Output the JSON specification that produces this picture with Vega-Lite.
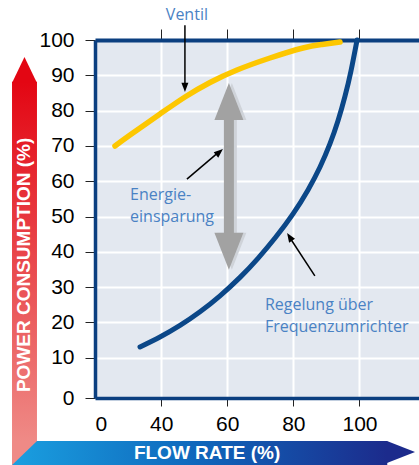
{
  "$schema": "https://vega.github.io/schema/vega-lite/v6.json",
  "width": 324,
  "height": 358,
  "autosize": {"type": "none"},
  "padding": {"left": 95, "top": 40, "right": 0, "bottom": 67},
  "background": "white",
  "config": {
    "view": {"fill": "#e3e8f0", "stroke": null},
    "font": "Liberation Sans",
    "axis": {"labelFont": "Liberation Sans"}
  },
  "data": {"values": [{}]},
  "datasets": {
    "ventil": [
      {"flow": 26.05, "power": 69.98},
      {"flow": 30.59, "power": 73.09},
      {"flow": 39.66, "power": 79.04},
      {"flow": 47.22, "power": 83.86},
      {"flow": 54.79, "power": 87.96},
      {"flow": 62.95, "power": 91.50},
      {"flow": 72.93, "power": 94.90},
      {"flow": 82.91, "power": 97.73},
      {"flow": 88.66, "power": 98.73},
      {"flow": 94.11, "power": 99.43}
    ],
    "frequenz": [
      {"flow": 33.61, "power": 13.05},
      {"flow": 39.66, "power": 15.88},
      {"flow": 45.71, "power": 19.16},
      {"flow": 51.76, "power": 23.02},
      {"flow": 57.81, "power": 27.55},
      {"flow": 63.86, "power": 32.76},
      {"flow": 69.30, "power": 38.17},
      {"flow": 74.45, "power": 43.90},
      {"flow": 79.89, "power": 50.77},
      {"flow": 84.43, "power": 57.54},
      {"flow": 88.06, "power": 64.03},
      {"flow": 91.08, "power": 70.63},
      {"flow": 93.50, "power": 77.12},
      {"flow": 95.62, "power": 84.08},
      {"flow": 97.44, "power": 91.32},
      {"flow": 99.26, "power": 100.0}
    ]
  },
  "layer": [
    {
      "mark": {"type": "rect", "fill": {"gradient": "linear", "x1": 0, "y1": 0, "x2": 1, "y2": 0, "stops": [{"offset": 0, "color": "#1a9fe0"}, {"offset": 0.5, "color": "#0f66bb"}, {"offset": 1, "color": "#1c2b8c"}]}},
      "encoding": {
        "x": {"datum": -5.1, "type": "quantitative", "axis": null},
        "x2": {"datum": 108.4},
        "y": {"datum": -13.6, "type": "quantitative", "axis": null},
        "y2": {"datum": -20.5}
      }
    },
    {
      "mark": {"type": "point", "shape": "M0,0L-2.55,-1L-2.55,1Z", "size": 484, "filled": true, "opacity": 1, "fill": "#1c2b8c", "strokeWidth": 0},
      "encoding": {
        "x": {"datum": 116.8, "type": "quantitative", "axis": null},
        "y": {"datum": -16.7, "type": "quantitative", "axis": null}
      }
    },
    {
      "mark": {"type": "rect", "fill": {"gradient": "linear", "x1": 0, "y1": 0, "x2": 0, "y2": 1, "stops": [{"offset": 0, "color": "#e30613"}, {"offset": 1, "color": "#ef8a86"}]}},
      "encoding": {
        "x": {"datum": -5.1, "type": "quantitative", "axis": null},
        "x2": {"datum": 2.45},
        "y": {"datum": 88.2, "type": "quantitative", "axis": null},
        "y2": {"datum": -13.6}
      }
    },
    {
      "mark": {"type": "point", "shape": "M0,0L1,2.08L-1,2.08Z", "size": 625, "filled": true, "opacity": 1, "fill": "#e30613", "strokeWidth": 0},
      "encoding": {
        "x": {"datum": -1.33, "type": "quantitative", "axis": null},
        "y": {"datum": 95.2, "type": "quantitative", "axis": null}
      }
    },
    {
      "mark": {"type": "point", "shape": "M0,0L2,0L0,1.92Z", "size": 625, "filled": true, "opacity": 1, "fill": "#ef8a86", "strokeWidth": 0},
      "encoding": {
        "x": {"datum": -5.1, "type": "quantitative", "axis": null},
        "y": {"datum": -13.6, "type": "quantitative", "axis": null}
      }
    },
    {
      "mark": {"type": "text", "text": "POWER CONSUMPTION (%)", "angle": 270, "font": "Liberation Sans", "fontWeight": "bold", "fontSize": 19, "fill": "white", "align": "center", "baseline": "middle"},
      "encoding": {
        "x": {"datum": -1.33, "type": "quantitative", "axis": null},
        "y": {"datum": 36.3, "type": "quantitative", "axis": null}
      }
    },
    {
      "mark": {"type": "text", "text": "FLOW RATE (%)", "font": "Liberation Sans", "fontWeight": "bold", "fontSize": 19, "fill": "white", "align": "center", "baseline": "middle"},
      "encoding": {
        "x": {"datum": 53.9, "type": "quantitative", "axis": null},
        "y": {"datum": -16.9, "type": "quantitative", "axis": null}
      }
    },
    {
      "mark": {"type": "rule", "color": "#cfd3d9", "strokeWidth": 10},
      "encoding": {
        "x": {"datum": 61.4, "type": "quantitative", "axis": null},
        "y": {"datum": 78.0, "type": "quantitative", "axis": null},
        "y2": {"datum": 44.7}
      }
    },
    {
      "mark": {"type": "point", "shape": "M0,0L1,2.55L-1,2.55Z", "size": 841, "filled": true, "opacity": 1, "fill": "#cfd3d9", "strokeWidth": 0},
      "encoding": {
        "x": {"datum": 61.4, "type": "quantitative", "axis": null},
        "y": {"datum": 87.8, "type": "quantitative", "axis": null}
      }
    },
    {
      "mark": {"type": "point", "shape": "M0,0L1,-2.55L-1,-2.55Z", "size": 841, "filled": true, "opacity": 1, "fill": "#cfd3d9", "strokeWidth": 0},
      "encoding": {
        "x": {"datum": 61.4, "type": "quantitative", "axis": null},
        "y": {"datum": 34.9, "type": "quantitative", "axis": null}
      }
    },
    {
      "mark": {"type": "rule", "color": "#a2a2a2", "strokeWidth": 10},
      "encoding": {
        "x": {"datum": 60.5, "type": "quantitative", "axis": null},
        "y": {"datum": 78.0, "type": "quantitative", "axis": null},
        "y2": {"datum": 44.7}
      }
    },
    {
      "mark": {"type": "point", "shape": "M0,0L1,2.55L-1,2.55Z", "size": 841, "filled": true, "opacity": 1, "fill": "#a2a2a2", "strokeWidth": 0},
      "encoding": {
        "x": {"datum": 60.5, "type": "quantitative", "axis": null},
        "y": {"datum": 87.8, "type": "quantitative", "axis": null}
      }
    },
    {
      "mark": {"type": "point", "shape": "M0,0L1,-2.55L-1,-2.55Z", "size": 841, "filled": true, "opacity": 1, "fill": "#a2a2a2", "strokeWidth": 0},
      "encoding": {
        "x": {"datum": 60.5, "type": "quantitative", "axis": null},
        "y": {"datum": 34.9, "type": "quantitative", "axis": null}
      }
    },
    {
      "data": {"name": "ventil"},
      "mark": {"type": "line", "color": "#fdc700", "strokeWidth": 5.5, "strokeCap": "round", "interpolate": "natural"},
      "encoding": {
        "x": {
          "field": "flow", "type": "quantitative",
          "scale": {"domain": [20, 118], "nice": false, "zero": false},
          "axis": {
            "orient": "bottom",
            "values": [20, 40, 60, 80, 100],
            "labelExpr": "datum.value == 20 ? '0' : datum.label",
            "title": null,
            "grid": true,
            "gridColor": {"condition": {"test": "datum.value == 20", "value": "transparent"}, "value": "white"},
            "gridWidth": 2,
            "domainColor": "#0b3f80",
            "domainWidth": 3.5,
            "tickColor": {"condition": {"test": "datum.value == 20", "value": "transparent"}, "value": "#222222"},
            "tickSize": 8,
            "labelFontSize": 21,
            "labelColor": "black",
            "labelPadding": 7
          }
        },
        "y": {
          "field": "power", "type": "quantitative",
          "scale": {"domain": [-1.4, 100], "nice": false, "zero": false},
          "axis": {
            "orient": "left",
            "values": [-1.4, 10, 20, 30, 40, 50, 60, 70, 80, 90, 100],
            "labelExpr": "datum.value < 0 ? '0' : datum.label",
            "title": null,
            "grid": true,
            "gridColor": {"condition": {"test": "datum.value < 0 || datum.value == 100", "value": "transparent"}, "value": "white"},
            "gridWidth": 2,
            "domainColor": "#0b3f80",
            "domainWidth": 3.5,
            "tickColor": "#222222",
            "tickSize": 10,
            "labelFontSize": 21,
            "labelColor": "black",
            "labelPadding": 11
          }
        }
      }
    },
    {
      "data": {"name": "frequenz"},
      "mark": {"type": "line", "color": "#0b4788", "strokeWidth": 5, "strokeCap": "round", "interpolate": "natural"},
      "encoding": {
        "x": {
          "field": "flow", "type": "quantitative",
          "scale": {"domain": [20, 118], "nice": false, "zero": false},
          "axis": {
            "orient": "top",
            "values": [40, 60, 80, 100],
            "labels": false,
            "title": null,
            "grid": false,
            "domainColor": "#0b3f80",
            "domainWidth": 4,
            "tickColor": "#222222",
            "tickSize": 11
          }
        },
        "y": {
          "field": "power", "type": "quantitative",
          "scale": {"domain": [-1.4, 100], "nice": false, "zero": false},
          "axis": null
        }
      }
    },
    {
      "mark": {"type": "rule", "color": "black", "strokeWidth": 1.5},
      "encoding": {
        "x": {"datum": 47.2, "type": "quantitative", "axis": null},
        "y": {"datum": 104.2, "type": "quantitative", "axis": null},
        "y2": {"datum": 87.0}
      }
    },
    {
      "mark": {"type": "point", "shape": "M0,0L1,-2.6L-1,-2.6Z", "size": 49, "filled": true, "opacity": 1, "fill": "black", "strokeWidth": 0},
      "encoding": {
        "x": {"datum": 47.2, "type": "quantitative", "axis": null},
        "y": {"datum": 85.3, "type": "quantitative", "axis": null}
      }
    },
    {
      "mark": {"type": "rule", "color": "black", "strokeWidth": 1.5},
      "encoding": {
        "x": {"datum": 47.8, "type": "quantitative", "axis": null},
        "y": {"datum": 60.6, "type": "quantitative", "axis": null},
        "x2": {"datum": 57.5},
        "y2": {"datum": 68.3}
      }
    },
    {
      "mark": {"type": "point", "shape": "M0,0L1,2.6L-1,2.6Z", "size": 49, "angle": 50, "filled": true, "opacity": 1, "fill": "black", "strokeWidth": 0},
      "encoding": {
        "x": {"datum": 58.7, "type": "quantitative", "axis": null},
        "y": {"datum": 69.1, "type": "quantitative", "axis": null}
      }
    },
    {
      "mark": {"type": "rule", "color": "black", "strokeWidth": 1.5},
      "encoding": {
        "x": {"datum": 86.5, "type": "quantitative", "axis": null},
        "y": {"datum": 33.2, "type": "quantitative", "axis": null},
        "x2": {"datum": 78.8},
        "y2": {"datum": 44.2}
      }
    },
    {
      "mark": {"type": "point", "shape": "M0,0L1,2.6L-1,2.6Z", "size": 49, "angle": -33, "filled": true, "opacity": 1, "fill": "black", "strokeWidth": 0},
      "encoding": {
        "x": {"datum": 78.1, "type": "quantitative", "axis": null},
        "y": {"datum": 45.3, "type": "quantitative", "axis": null}
      }
    },
    {
      "mark": {"type": "text", "text": "Ventil", "font": "Open Sans", "fontSize": 16, "fill": "#4a82c4", "align": "center", "baseline": "alphabetic"},
      "encoding": {
        "x": {"datum": 47.8, "type": "quantitative", "axis": null},
        "y": {"datum": 105.7, "type": "quantitative", "axis": null}
      }
    },
    {
      "mark": {"type": "text", "text": "Energie-\neinsparung", "lineBreak": "\n", "lineHeight": 22, "font": "Open Sans", "fontSize": 16, "fill": "#4a82c4", "align": "left", "baseline": "alphabetic"},
      "encoding": {
        "x": {"datum": 30.6, "type": "quantitative", "axis": null},
        "y": {"datum": 54.7, "type": "quantitative", "axis": null}
      }
    },
    {
      "mark": {"type": "text", "text": "Regelung über\nFrequenzumrichter", "lineBreak": "\n", "lineHeight": 22, "font": "Open Sans", "fontSize": 16, "fill": "#4a82c4", "align": "left", "baseline": "alphabetic"},
      "encoding": {
        "x": {"datum": 71.4, "type": "quantitative", "axis": null},
        "y": {"datum": 23.5, "type": "quantitative", "axis": null}
      }
    }
  ],
  "resolve": {"axis": {"x": "independent", "y": "independent"}}
}
